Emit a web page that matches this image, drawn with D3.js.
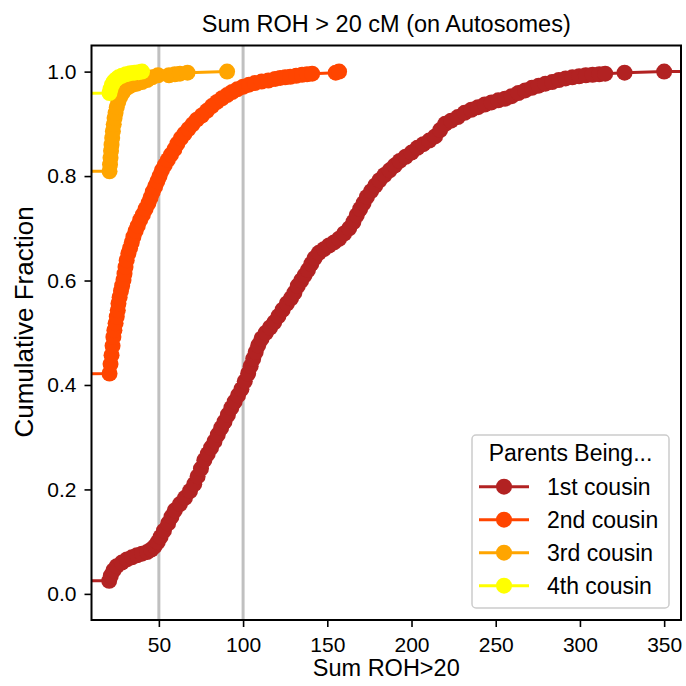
<!DOCTYPE html>
<html>
<head>
<meta charset="utf-8">
<script src="https://cdn.jsdelivr.net/npm/d3@7"></script>
<style>
  body { margin: 0; background: #fff; }
  svg { display: block; font-family: "Liberation Sans", Arial, sans-serif; }
</style>
</head>
<body>
<div id="chart"></div>
<script>
// ECDF values (x = Sum ROH>20, y = cumulative fraction)
var cousin1X = [0, 20.5, 21.5, 23, 25, 28, 31, 34, 37, 40, 43, 45.5, 47.5, 49.3, 51, 53, 55.5, 57.5, 59.5, 62.5, 65.5, 68.5,
  71, 73, 75, 77, 79, 81, 83, 85, 87, 89, 91, 93, 95, 97, 99, 101, 103, 104.5, 106, 107.5, 109, 111, 113.5, 116, 118.5,
  121, 123.5, 126, 128.5, 130.5, 132.5, 134.5, 136.5, 138.5, 140.5, 142.5, 145, 148, 151, 154, 157, 160, 163, 165.5,
  167.5, 169.5, 171.5, 173.5, 176, 178.5, 181, 184, 187, 190, 193, 196.5, 200, 203.5, 207, 210.5, 214, 217, 220, 223.5,
  227.5, 231.5, 235.5, 239.5, 243.5, 247.5, 251.5, 255.5, 259.5, 263.5, 267.5, 271.5, 275.5, 279.5, 283.5, 287.5,
  291.5, 295.5, 299.5, 303.5, 307.5, 311.5, 315, 326.5, 350, 370];
var cousin1Y = [0.025, 0.025, 0.035, 0.045, 0.053, 0.060, 0.066, 0.070, 0.074, 0.077, 0.080, 0.085, 0.091, 0.099, 0.109,
  0.121, 0.135, 0.148, 0.160, 0.172, 0.184, 0.197, 0.210, 0.225, 0.240, 0.256, 0.268, 0.280, 0.292, 0.305, 0.318, 0.330,
  0.343, 0.356, 0.368, 0.380, 0.392, 0.407, 0.422, 0.436, 0.450, 0.463, 0.476, 0.489, 0.500, 0.510, 0.520, 0.532, 0.544,
  0.556, 0.566, 0.577, 0.590, 0.600, 0.610, 0.620, 0.632, 0.643, 0.653, 0.660, 0.667, 0.673, 0.680, 0.690, 0.700, 0.712,
  0.725, 0.737, 0.748, 0.760, 0.771, 0.782, 0.792, 0.802, 0.811, 0.820, 0.829, 0.837, 0.845, 0.854, 0.861, 0.868, 0.876,
  0.888, 0.900, 0.906, 0.913, 0.921, 0.927, 0.932, 0.937, 0.941, 0.945, 0.948, 0.953, 0.959, 0.964, 0.969, 0.973, 0.977,
  0.980, 0.984, 0.987, 0.989, 0.991, 0.993, 0.994, 0.995, 0.996, 0.998, 1.0, 1.0];

var cousin2X = [0, 20.7, 21.3, 21.9, 22.5, 23.0, 23.6, 24.3, 25.0, 25.6, 26.0, 26.7, 27.5, 28.2, 29.0, 29.6, 30.2, 30.9,
  31.9, 32.9, 33.9, 34.9, 36.2, 37.5, 38.9, 40.5, 42.1, 43.8, 45.1, 46.4, 47.8, 49.1, 50.4, 51.8, 53.5, 55.3, 57.2, 59.2,
  61.0, 63.0, 65.2, 67.5, 70.0, 72.5, 75.5, 78.5, 81.5, 84.5, 87.5, 90.5, 93.5, 96.5, 100, 103.5, 107, 111, 115, 119,
  122, 125, 128, 131.5, 135, 138, 141, 155, 157];
var cousin2Y = [0.421, 0.422, 0.440, 0.457, 0.475, 0.492, 0.505, 0.518, 0.531, 0.543, 0.556, 0.568, 0.580, 0.590, 0.601,
  0.613, 0.626, 0.639, 0.652, 0.662, 0.673, 0.684, 0.695, 0.705, 0.716, 0.726, 0.737, 0.748, 0.759, 0.770, 0.780, 0.790,
  0.800, 0.811, 0.821, 0.831, 0.841, 0.851, 0.862, 0.872, 0.881, 0.890, 0.899, 0.908, 0.916, 0.925, 0.934, 0.942, 0.949,
  0.955, 0.961, 0.966, 0.971, 0.975, 0.978, 0.981, 0.983, 0.986, 0.988, 0.989, 0.990, 0.992, 0.994, 0.995, 0.996, 0.998, 1.0];

var cousin3X = [0, 20.7, 21.0, 21.3, 21.6, 21.9, 22.3, 22.7, 23.2, 23.7, 24.3, 25.0, 25.9, 27.0, 28.5, 30.0, 32.0, 34.5,
  37.0, 40.0, 43.0, 46.0, 49.5, 56.0, 59.5, 62.5, 67.0, 90.5];
var cousin3Y = [0.809, 0.809, 0.822, 0.835, 0.848, 0.860, 0.873, 0.886, 0.899, 0.911, 0.921, 0.932, 0.942, 0.951, 0.960,
  0.967, 0.971, 0.975, 0.977, 0.980, 0.984, 0.989, 0.993, 0.993, 0.995, 0.996, 0.998, 1.0];

var cousin4X = [0, 20.7, 21.3, 22.2, 23.2, 24.5, 26.0, 28.0, 30.5, 33.0, 35.5, 38.0, 40.0];
var cousin4Y = [0.958, 0.959, 0.967, 0.975, 0.981, 0.985, 0.989, 0.992, 0.995, 0.997, 0.998, 0.999, 1.0];

var seriesNames = ["1st cousin", "2nd cousin", "3rd cousin", "4th cousin"];
var seriesColors = ["#b22222", "#ff4500", "#ffa500", "#ffff00"];
var refLines = [50, 100];
var xTicks = [50, 100, 150, 200, 250, 300, 350];
var yTicks = [0, 0.2, 0.4, 0.6, 0.8, 1.0];

var series = [
  {name: seriesNames[0], color: seriesColors[0], x: cousin1X, y: cousin1Y},
  {name: seriesNames[1], color: seriesColors[1], x: cousin2X, y: cousin2Y},
  {name: seriesNames[2], color: seriesColors[2], x: cousin3X, y: cousin3Y},
  {name: seriesNames[3], color: seriesColors[3], x: cousin4X, y: cousin4Y}
];

var W = 686, H = 686;
var plot = {left: 91.5, right: 681, top: 45.5, bottom: 620};

var svg = d3.select("#chart").append("svg").attr("width", W).attr("height", H);

var x = d3.scaleLinear().domain([10, 360]).range([plot.left, plot.right]);
var y = d3.scaleLinear().domain([-0.05, 1.05]).range([plot.bottom, plot.top]);

svg.append("clipPath").attr("id", "clip").append("rect")
  .attr("x", plot.left).attr("y", plot.top)
  .attr("width", plot.right - plot.left).attr("height", plot.bottom - plot.top);

var g = svg.append("g").attr("clip-path", "url(#clip)");

// grey reference lines
g.selectAll("line.ref").data(refLines).enter().append("line")
  .attr("class", "ref")
  .attr("x1", function(d){ return x(d); }).attr("x2", function(d){ return x(d); })
  .attr("y1", plot.top).attr("y2", plot.bottom)
  .attr("stroke", "#c0c0c0").attr("stroke-width", 3);

var line = d3.line().x(function(d){ return x(d[0]); }).y(function(d){ return y(d[1]); });

series.forEach(function(s){
  var pts = s.x.map(function(v, i){ return [v, s.y[i]]; });
  g.append("path").datum(pts)
    .attr("d", line).attr("fill", "none")
    .attr("stroke", s.color).attr("stroke-width", 3);
  g.append("g").selectAll("circle").data(pts).enter().append("circle")
    .attr("cx", function(d){ return x(d[0]); })
    .attr("cy", function(d){ return y(d[1]); })
    .attr("r", 8)
    .attr("fill", s.color);
});

// axes
var xAxis = svg.append("g").attr("transform", "translate(0," + plot.bottom + ")")
  .call(d3.axisBottom(x).tickValues(xTicks).tickSize(7).tickPadding(10).tickFormat(d3.format("d")));
var yAxis = svg.append("g").attr("transform", "translate(" + plot.left + ",0)")
  .call(d3.axisLeft(y).tickValues(yTicks).tickSize(7).tickPadding(8).tickFormat(d3.format(".1f")));
[xAxis, yAxis].forEach(function(a){
  a.select(".domain").remove();
  a.selectAll(".tick line").attr("stroke", "#000").attr("stroke-width", 1.6);
  a.selectAll(".tick text").attr("fill", "#000").style("font-size", "21px")
    .style("font-family", "'Liberation Sans', Arial, sans-serif");
});

svg.append("rect")
  .attr("x", plot.left).attr("y", plot.top)
  .attr("width", plot.right - plot.left).attr("height", plot.bottom - plot.top)
  .attr("fill", "none").attr("stroke", "#000").attr("stroke-width", 2);

// titles
svg.append("text").attr("x", (plot.left + plot.right) / 2).attr("y", 32)
  .attr("text-anchor", "middle").style("font-size", "23.5px").text("Sum ROH > 20 cM (on Autosomes)");
svg.append("text").attr("x", (plot.left + plot.right) / 2).attr("y", 676)
  .attr("text-anchor", "middle").style("font-size", "23.5px").text("Sum ROH>20");
svg.append("text").attr("transform", "translate(33,322) rotate(-90)")
  .attr("text-anchor", "middle").style("font-size", "26px").text("Cumulative Fraction");

// legend
var leg = svg.append("g");
leg.append("rect").attr("x", 472).attr("y", 435).attr("width", 197).attr("height", 173)
  .attr("rx", 4).attr("fill", "#fff").attr("fill-opacity", 0.8)
  .attr("stroke", "#cccccc").attr("stroke-width", 1.5);
leg.append("text").attr("x", 570.5).attr("y", 461).attr("text-anchor", "middle")
  .style("font-size", "23px").text("Parents Being...");
var items = leg.selectAll("g.item").data(series).enter().append("g")
  .attr("class", "item")
  .attr("transform", function(d, i){ return "translate(0," + (486.7 + i * 33) + ")"; });
items.append("line").attr("x1", 479).attr("x2", 529).attr("y1", 0).attr("y2", 0)
  .attr("stroke", function(d){ return d.color; }).attr("stroke-width", 3);
items.append("circle").attr("cx", 504).attr("cy", 0).attr("r", 8)
  .attr("fill", function(d){ return d.color; });
items.append("text").attr("x", 547).attr("y", 8.3).style("font-size", "23px")
  .text(function(d){ return d.name; });
</script>
</body>
</html>
